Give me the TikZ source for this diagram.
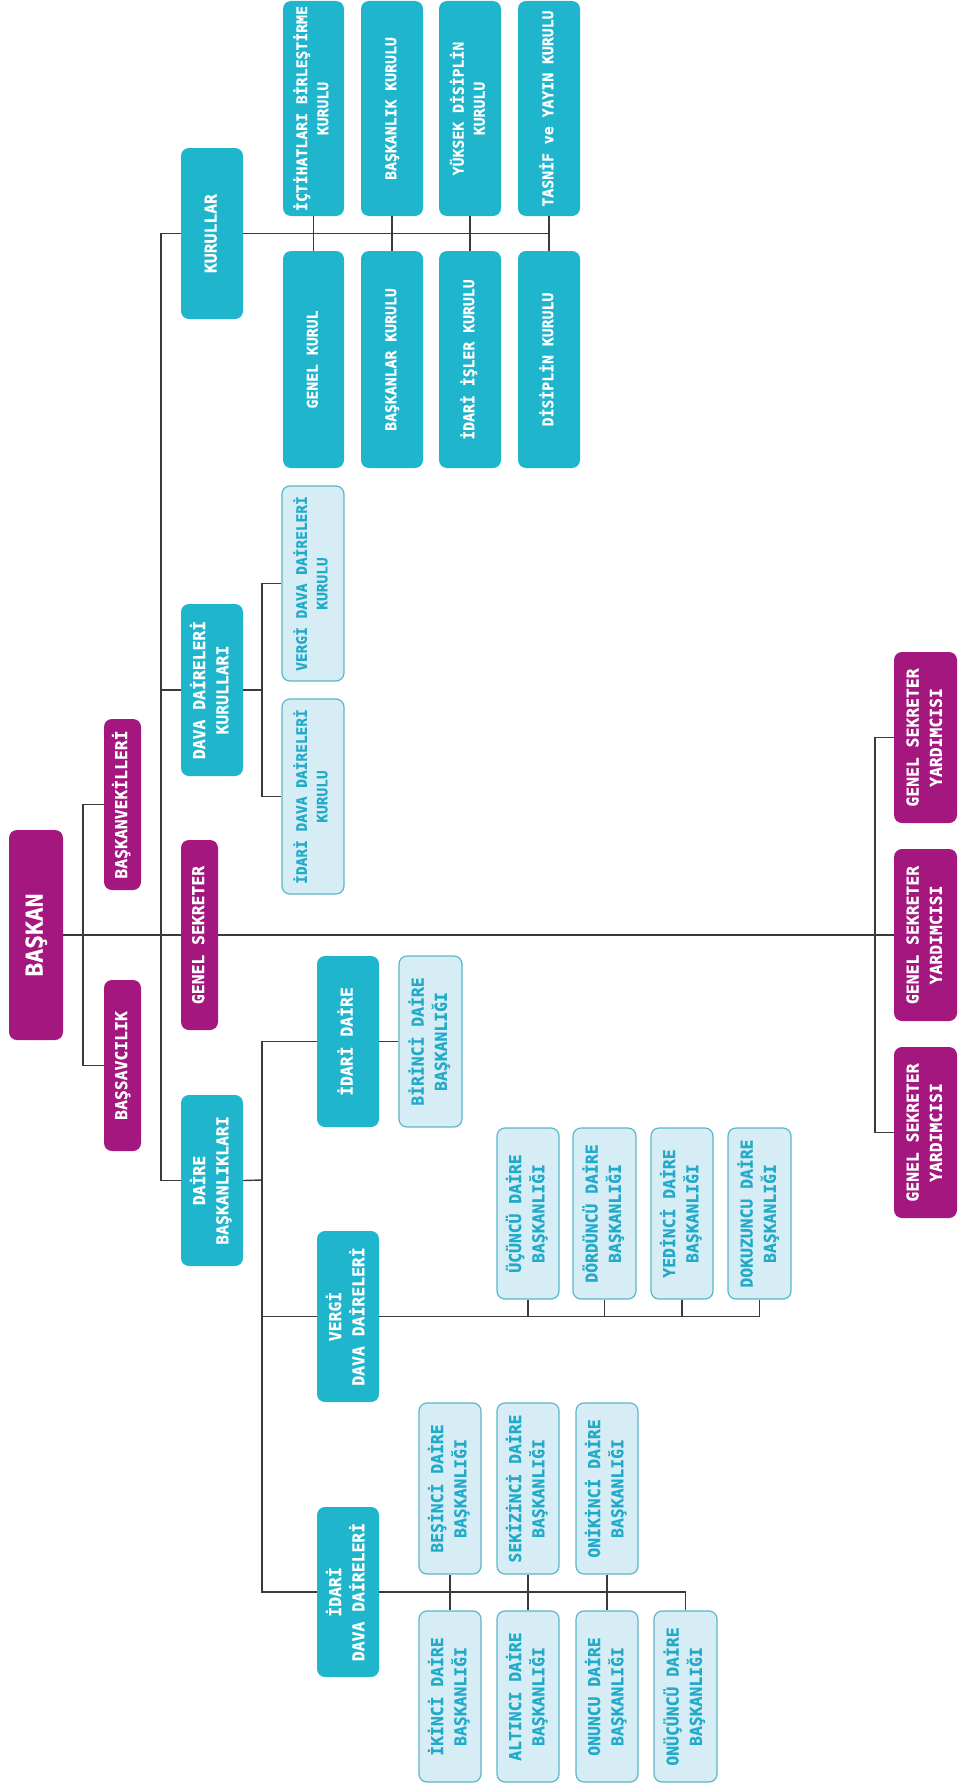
\documentclass[tikz,border=0pt]{standalone}
\usepackage{fontspec}
\setmainfont{DejaVu Sans Mono}[BoldFeatures={FakeBold=0.6}]
\usepackage{graphicx}
\definecolor{mag}{HTML}{A3177F}
\definecolor{tealc}{HTML}{1FB5CD}
\definecolor{lfill}{HTML}{D6EDF6}
\definecolor{lborder}{HTML}{5BB7CA}
\definecolor{ltext}{HTML}{22AAC9}
\definecolor{lineclr}{HTML}{3A3A3A}
\tikzset{
  base/.style={rounded corners=8pt, inner sep=0pt, align=center, font=\bfseries},
  magbox/.style={base, fill=mag, text=white},
  tealbox/.style={base, fill=tealc, text=white},
  lightbox/.style={base, fill=lfill, draw=lborder, line width=1.2pt, text=ltext},
  conn/.style={draw=lineclr, line width=1.4pt},
}
\newcommand\rtxt[2]{\rotatebox{90}{\fontsize{#1pt}{\fpeval{#1*1.42}pt}\selectfont\begin{tabular}{@{}c@{}}#2\end{tabular}}}
% style, name, x1, y1, x2, y2, fontsize, text
\newcommand\mybox[8]{\node[#1, minimum width={(#5-#3)*1pt}, minimum height={(#6-#4)*1pt}] (#2) at ({(#3+#5)/2},{(#4+#6)/2}) {\rtxt{#7}{#8}};}
\begin{document}
\begin{tikzpicture}[x=1pt,y=-1pt]
\useasboundingbox (0,0) rectangle (958,1785);
\fill[white] (0,0) rectangle (958,1785);
% magenta
\mybox{magbox}{baskan}{9}{830}{63}{1040}{23}{BAŞKAN}
\mybox{magbox}{bvek}{104}{719}{141}{890}{16.4}{BAŞKANVEKİLLERİ}
\mybox{magbox}{bsav}{104}{980}{141}{1151}{16.4}{BAŞSAVCILIK}
\mybox{magbox}{gsek}{181}{840}{218}{1030}{16.4}{GENEL SEKRETER}
\mybox{magbox}{gsy1}{894}{652}{957}{823}{16.4}{GENEL SEKRETER\\YARDIMCISI}
\mybox{magbox}{gsy2}{894}{849}{957}{1021}{16.4}{GENEL SEKRETER\\YARDIMCISI}
\mybox{magbox}{gsy3}{894}{1047}{957}{1218}{16.4}{GENEL SEKRETER\\YARDIMCISI}
% teal
\mybox{tealbox}{kur}{181}{148}{243}{319}{16.4}{KURULLAR}
\mybox{tealbox}{ddk}{181}{604}{243}{776}{16.4}{DAVA DAİRELERİ\\KURULLARI}
\mybox{tealbox}{dbk}{181}{1095}{243}{1266}{16.4}{DAİRE\\BAŞKANLIKLARI}
\mybox{tealbox}{k1}{283}{1}{344}{216}{14.8}{İÇTİHATLARI BİRLEŞTİRME\\KURULU}
\mybox{tealbox}{k2}{361}{1}{423}{216}{14.8}{BAŞKANLIK KURULU}
\mybox{tealbox}{k3}{439}{1}{501}{216}{14.8}{YÜKSEK DİSİPLİN\\KURULU}
\mybox{tealbox}{k4}{518}{1}{580}{216}{14.8}{TASNİF ve YAYIN KURULU}
\mybox{tealbox}{k5}{283}{251}{344}{468}{14.8}{GENEL KURUL}
\mybox{tealbox}{k6}{361}{251}{423}{468}{14.8}{BAŞKANLAR KURULU}
\mybox{tealbox}{k7}{439}{251}{501}{468}{14.8}{İDARİ İŞLER KURULU}
\mybox{tealbox}{k8}{518}{251}{580}{468}{14.8}{DİSİPLİN KURULU}
\mybox{tealbox}{idaire}{317}{956}{379}{1127}{16.4}{İDARİ DAİRE}
\mybox{tealbox}{vdd}{317}{1231}{379}{1402}{16.4}{VERGİ\\DAVA DAİRELERİ}
\mybox{tealbox}{idd}{317}{1507}{379}{1677}{16.4}{İDARİ\\DAVA DAİRELERİ}
% light
\mybox{lightbox}{vddk}{282}{486}{344}{681}{14.5}{VERGİ DAVA DAİRELERİ\\KURULU}
\mybox{lightbox}{iddk}{282}{699}{344}{894}{14.5}{İDARİ DAVA DAİRELERİ\\KURULU}
\mybox{lightbox}{d1}{399}{956}{462}{1127}{16.4}{BİRİNCİ DAİRE\\BAŞKANLIĞI}
\mybox{lightbox}{d3}{497}{1128}{559}{1299}{16.4}{ÜÇÜNCÜ DAİRE\\BAŞKANLIĞI}
\mybox{lightbox}{d4}{573}{1128}{636}{1299}{16.4}{DÖRDÜNCÜ DAİRE\\BAŞKANLIĞI}
\mybox{lightbox}{d7}{651}{1128}{713}{1299}{16.4}{YEDİNCİ DAİRE\\BAŞKANLIĞI}
\mybox{lightbox}{d9}{728}{1128}{791}{1299}{16.4}{DOKUZUNCU DAİRE\\BAŞKANLIĞI}
\mybox{lightbox}{d5}{419}{1403}{481}{1574}{16.4}{BEŞİNCİ DAİRE\\BAŞKANLIĞI}
\mybox{lightbox}{d8}{497}{1403}{559}{1574}{16.4}{SEKİZİNCİ DAİRE\\BAŞKANLIĞI}
\mybox{lightbox}{d12}{576}{1403}{638}{1574}{16.4}{ONİKİNCİ DAİRE\\BAŞKANLIĞI}
\mybox{lightbox}{d2}{419}{1611}{481}{1782}{16.4}{İKİNCİ DAİRE\\BAŞKANLIĞI}
\mybox{lightbox}{d6}{497}{1611}{559}{1782}{16.4}{ALTINCI DAİRE\\BAŞKANLIĞI}
\mybox{lightbox}{d10}{576}{1611}{638}{1782}{16.4}{ONUNCU DAİRE\\BAŞKANLIĞI}
\mybox{lightbox}{d13}{654}{1611}{717}{1782}{16.4}{ONÜÇÜNCÜ DAİRE\\BAŞKANLIĞI}
% coordinates
\coordinate (c83) at (83,935);
\coordinate (m) at (161,935);
\coordinate (c262a) at (262,690);
\coordinate (c262b) at (262,1180);
\coordinate (c875) at (875,935);
% connectors
\draw[conn] (baskan.east) -- (gsek.west);
\draw[conn] (gsek.east) -- (gsy2.west);
\draw[conn] (bvek.west) -| (c83) |- (bsav.west);
\draw[conn] (kur.west) -| (m) |- (dbk.west);
\draw[conn] (ddk.west) -- (ddk.west -| m);
\draw[conn] (kur.east) -| (k4.south);
\draw[conn] (k1.south) -- (k5.north);
\draw[conn] (k2.south) -- (k6.north);
\draw[conn] (k3.south) -- (k7.north);
\draw[conn] (k4.south) -- (k8.north);
\draw[conn] (ddk.east) -- (c262a);
\draw[conn] (vddk.west) -| (c262a) |- (iddk.west);
\draw[conn] (dbk.east) -- (c262b);
\draw[conn] (idaire.west) -| (c262b) |- (idd.west);
\draw[conn] (vdd.west) -- (vdd.west -| c262b);
\draw[conn] (idaire.east) -- (d1.west);
\draw[conn] (vdd.east) -| (d9.south);
\draw[conn] (d3.south) -- (d3.south |- vdd.east);
\draw[conn] (d4.south) -- (d4.south |- vdd.east);
\draw[conn] (d7.south) -- (d7.south |- vdd.east);
\draw[conn] (idd.east) -| (d13.north);
\draw[conn] (d5.south) -- (d2.north);
\draw[conn] (d8.south) -- (d6.north);
\draw[conn] (d12.south) -- (d10.north);
\draw[conn] (gsy1.west) -| (c875) |- (gsy3.west);
\end{tikzpicture}
\end{document}
